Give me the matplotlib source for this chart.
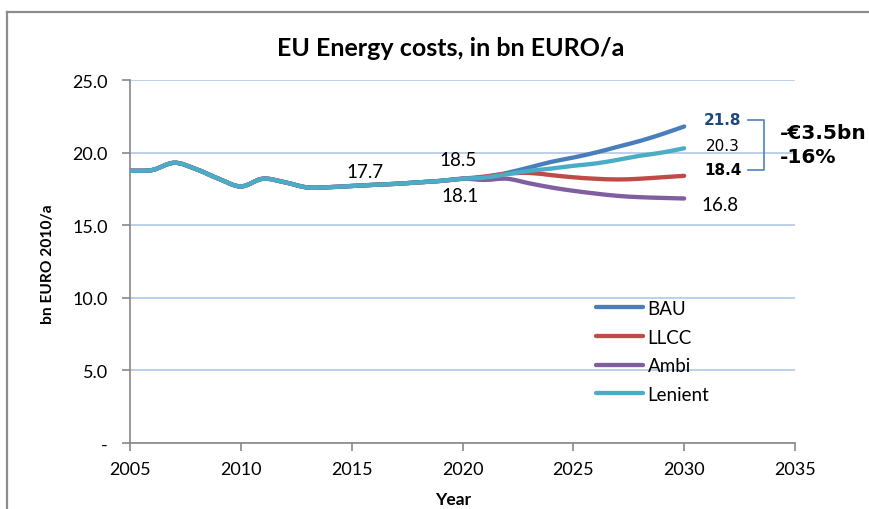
import numpy as np
import matplotlib
matplotlib.use('Agg')
from matplotlib import pyplot as plt
from matplotlib.path import Path
from matplotlib.patches import PathPatch
from matplotlib.lines import Line2D

# data
years = list(range(2005, 2031))
common = [18.75, 18.8, 19.3, 18.85, 18.2, 17.67, 18.2, 17.95, 17.6, 17.62,
          17.7, 17.78, 17.85, 17.95, 18.05, 18.2]
bau = common + [18.3, 18.6, 18.97, 19.36, 19.66, 20.0, 20.4, 20.8, 21.27, 21.8]
llcc = common + [18.35, 18.55, 18.6, 18.45, 18.3, 18.2, 18.15, 18.2, 18.3, 18.4]
ambi = common + [18.12, 18.2, 17.89, 17.6, 17.37, 17.18, 17.02, 16.93, 16.88, 16.84]
lenient = common + [18.28, 18.51, 18.74, 18.9, 19.09, 19.25, 19.5, 19.78, 20.0, 20.3]

series = [('BAU', bau, '#4A7EBB'),
          ('LLCC', llcc, '#BE4B48'),
          ('Ambi', ambi, '#7F5FA0'),
          ('Lenient', lenient, '#4BACC6')]

xticks = [2005, 2010, 2015, 2020, 2025, 2030, 2035]
yticks = [0, 5, 10, 15, 20, 25]
ytick_labels = ['-', '5.0', '10.0', '15.0', '20.0', '25.0']

font = 'Lato'
plt.rcParams['font.family'] = [font, 'DejaVu Sans']


def smooth_path(x, y):
    # excel-style smoothed line: catmull-rom segments as cubic bezier
    p = np.column_stack([x, y]).astype(float)
    n = len(p)
    verts = [p[0]]
    codes = [Path.MOVETO]
    for i in range(n - 1):
        p0 = p[i - 1] if i > 0 else p[i]
        p3 = p[i + 2] if i + 2 < n else p[i + 1]
        c1 = p[i] + (p[i + 1] - p0) / 6.0
        c2 = p[i + 1] - (p3 - p[i]) / 6.0
        verts += [c1, c2, p[i + 1]]
        codes += [Path.CURVE4] * 3
    return Path(verts, codes)


fig = plt.figure(figsize=(8.69, 5.10), dpi=100)
ax = fig.add_axes([130/869, 1-444/510, 665/869, 363/510])

for name, vals, col in series:
    patch = PathPatch(smooth_path(years, vals), facecolor='none', edgecolor=col,
                      lw=3.1, capstyle='round', joinstyle='round', zorder=3)
    ax.add_patch(patch)

ax.set_xlim(2005, 2035)
ax.set_ylim(0, 25)
ax.set_xticks(xticks)
ax.set_yticks(yticks)
ax.set_yticklabels(ytick_labels)
ax.grid(axis='y', color='#B9CDE5', lw=1.3, zorder=0)
ax.set_axisbelow(True)
for s in ['top', 'right']:
    ax.spines[s].set_visible(False)
for s in ['left', 'bottom']:
    ax.spines[s].set_color('#888888')
    ax.spines[s].set_linewidth(1.2)
ax.tick_params(axis='both', colors='#888888', length=6, width=1.2, labelsize=13,
               labelcolor='black')
ax.tick_params(axis='y', pad=10)
ax.tick_params(axis='x', pad=7)

ax.set_ylabel('bn EURO 2010/a', fontsize=11.2, fontweight='bold', va='center', ha='center')
ax.yaxis.set_label_coords(-0.123, 0.496)
ax.set_xlabel('Year', fontsize=12.5, fontweight='bold', va='center')
ax.xaxis.set_label_coords(0.486, -0.154)

fig.text(451/869, 1-48/510, 'EU Energy costs, in bn EURO/a', ha='center', va='center',
         fontsize=18, fontweight='bold')

# legend
handles = [Line2D([], [], color=c, lw=3.1, solid_capstyle='round') for _, _, c in series]
ax.legend(handles, [n for n, _, _ in series], loc='upper left',
          bbox_to_anchor=((596-130)/665, (444-301)/363), frameon=False,
          fontsize=13.5, handlelength=2.5, handletextpad=0.25, labelspacing=0.62,
          borderpad=0, borderaxespad=0)

# data labels
ax.text(2015.6, 18.72, '17.7', ha='center', va='center', fontsize=13.5)
ax.text(2019.8, 19.55, '18.5', ha='center', va='center', fontsize=13.5)
ax.text(2019.9, 17.02, '18.1', ha='center', va='center', fontsize=13.5)
ax.text(2031.75, 22.25, '21.8', ha='center', va='center', fontsize=11,
        fontweight='bold', color='#1F497D', family='DejaVu Sans')
ax.text(2031.75, 20.46, '20.3', ha='center', va='center', fontsize=11,
        family='DejaVu Sans')
ax.text(2031.75, 18.81, '18.4', ha='center', va='center', fontsize=11,
        fontweight='bold', family='DejaVu Sans')
ax.text(2031.6, 16.45, '16.8', ha='center', va='center', fontsize=13.5)

# bracket
bx0, bx1 = 2032.87, 2033.6
ax.plot([bx0, bx1, bx1, bx0], [22.23, 22.23, 18.79, 18.79], color='#4F81BD',
        lw=1.2, clip_on=False)
ax.text(2034.3, 21.35, '-€3.5bn', ha='left', va='center', fontsize=14.5,
        fontweight='bold', family='DejaVu Sans', clip_on=False)
ax.text(2034.3, 19.75, '-16%', ha='left', va='center', fontsize=14.5,
        fontweight='bold', family='DejaVu Sans', clip_on=False)

# chart area frame
fig.add_artist(Line2D([7/869, 1.0], [1-13/510, 1-13/510], color='#8c8c8c', lw=1.6))
fig.add_artist(Line2D([7/869, 7/869], [0, 1-13/510], color='#8c8c8c', lw=1.6))

fig.savefig('out.png', dpi=100)
